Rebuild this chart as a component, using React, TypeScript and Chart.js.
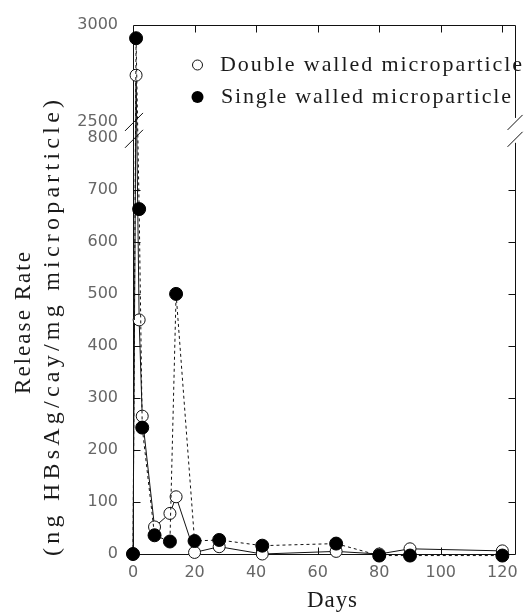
import React, { useEffect, useRef } from "react";
import { Chart, registerables } from "chart.js";

Chart.register(...registerables);

// ---------- data ----------
const days = [0, 1, 2, 3, 7, 12, 14, 20, 28, 42, 66, 80, 90, 120];
const doubleWalled = [0, 2740, 450, 265, 52, 78, 110, 3, 14, 0, 5, 0, 10, 6];
const singleWalled = [0, 2930, 663, 243, 36, 24, 500, 25, 27, 16, 20, -3, -3, -3];
const xTicks = [0, 20, 40, 60, 80, 100, 120];
const yLowerTicks = [0, 100, 200, 300, 400, 500, 600, 700, 800];
const yUpperTicks = [2500, 3000];
const seriesLabels = ["Double walled microparticle", "Single walled microparticle"];
const xTitle = "Days";
const yTitle = ["Release Rate", "(ng HBsAg/cay/mg microparticle)"];

// ---------- broken axis mapping ----------
const LOWER_MAX = 800;
const UPPER_MIN = 2500;
const UPPER_MAX = 3000;
const GAP_UNITS = 30.55;
const UPPER_SCALE = 0.3742;
const X_MAX = 124.3;

function toAxis(v: number): number {
  if (v <= LOWER_MAX) return v;
  if (v >= UPPER_MIN) return LOWER_MAX + GAP_UNITS + (v - UPPER_MIN) * UPPER_SCALE;
  return LOWER_MAX + ((v - LOWER_MAX) / (UPPER_MIN - LOWER_MAX)) * GAP_UNITS;
}

const yTickValues = [...yLowerTicks, ...yUpperTicks];

// ---------- layout/style ----------
const W = 527;
const H = 614;
const LEFT_W = 133;
const RIGHT_W = 7;
const TOP_H = 21;
const BOTTOM_H = 60;
const INK = "#111";
const SERIF = '"Liberation Serif", "DejaVu Serif", serif';

function drawFitted(
  ctx: CanvasRenderingContext2D,
  text: string,
  x: number,
  y: number,
  width: number,
  font: string,
  align: "center" | "left"
) {
  ctx.font = font;
  ctx.textAlign = "left";
  const w0 = ctx.measureText(text).width;
  const n = text.length;
  const startX = align === "center" ? x - width / 2 : x;
  const anyCtx = ctx as any;
  if ("letterSpacing" in anyCtx && n > 1) {
    const sp = (width - w0) / (n - 1);
    anyCtx.letterSpacing = sp + "px";
    ctx.fillText(text, startX, y);
    anyCtx.letterSpacing = "0px";
  } else {
    ctx.save();
    ctx.translate(startX, y);
    ctx.scale(width / w0, 1);
    ctx.fillText(text, 0, 0);
    ctx.restore();
  }
}

const framePlugin = {
  id: "brokenFrame",
  beforeDatasetsDraw(chart: any) {
    const { ctx, chartArea } = chart;
    const { left, right, top, bottom } = chartArea;
    const xs = chart.scales.x;
    const ys = chart.scales.y;
    const yb1 = ys.getPixelForValue(toAxis(UPPER_MIN));
    const yb2 = ys.getPixelForValue(LOWER_MAX);
    ctx.save();
    ctx.strokeStyle = INK;
    ctx.lineWidth = 1;
    ctx.beginPath();
    const l = Math.round(left) + 0.5;
    const r = Math.round(right) - 0.5;
    const t = Math.round(top) + 0.5;
    const b = Math.round(bottom) + 0.5;
    ctx.moveTo(l, t);
    ctx.lineTo(l, b);
    ctx.moveTo(l, b);
    ctx.lineTo(r, b);
    ctx.moveTo(l, t);
    ctx.lineTo(r, t);
    ctx.moveTo(r, t);
    ctx.lineTo(r, yb1 - 4);
    ctx.moveTo(r, yb2 + 5);
    ctx.lineTo(r, b);
    const TL = 7;
    xTicks.forEach((v) => {
      if (v === 0) return;
      const px = Math.round(xs.getPixelForValue(v)) + 0.5;
      ctx.moveTo(px, b);
      ctx.lineTo(px, b - TL);
      ctx.moveTo(px, t);
      ctx.lineTo(px, t + TL);
    });
    yLowerTicks.forEach((v) => {
      if (v === 0 || v === LOWER_MAX) return;
      const py = Math.round(ys.getPixelForValue(v)) + 0.5;
      ctx.moveTo(l, py);
      ctx.lineTo(l + TL, py);
      ctx.moveTo(r, py);
      ctx.lineTo(r - TL, py);
    });
    ctx.stroke();
    ctx.restore();
  },
  afterDraw(chart: any) {
    const { ctx, chartArea } = chart;
    const { left, right } = chartArea;
    const ys = chart.scales.y;
    const yb1 = ys.getPixelForValue(toAxis(UPPER_MIN));
    const yb2 = ys.getPixelForValue(LOWER_MAX) + 1;
    ctx.save();
    // break marks
    ctx.strokeStyle = INK;
    ctx.lineWidth = 1;
    ctx.beginPath();
    [yb1, yb2].forEach((yy) => {
      ctx.moveTo(left - 8, yy + 9);
      ctx.lineTo(left + 10, yy - 9);
      ctx.moveTo(right - 8, yy + 8);
      ctx.lineTo(right + 7, yy - 7);
    });
    ctx.stroke();

    ctx.fillStyle = "#1a1a1a";
    ctx.textBaseline = "alphabetic";
    // y title (two rotated lines)
    ctx.save();
    ctx.translate(30, 323);
    ctx.rotate(-Math.PI / 2);
    drawFitted(ctx, yTitle[0], 0, 0, 142, `23px ${SERIF}`, "center");
    ctx.restore();
    ctx.save();
    ctx.translate(59, 328);
    ctx.rotate(-Math.PI / 2);
    drawFitted(ctx, yTitle[1], 0, 0, 456, `24px ${SERIF}`, "center");
    ctx.restore();

    // x title
    drawFitted(ctx, xTitle, 332, 607, 50, `23px ${SERIF}`, "center");

    // legend
    ctx.beginPath();
    ctx.arc(197.5, 65, 5, 0, Math.PI * 2);
    ctx.fillStyle = "#fff";
    ctx.fill();
    ctx.strokeStyle = INK;
    ctx.stroke();
    ctx.beginPath();
    ctx.arc(197.5, 97, 6, 0, Math.PI * 2);
    ctx.fillStyle = "#000";
    ctx.fill();
    ctx.fillStyle = "#1a1a1a";
    drawFitted(ctx, seriesLabels[0], 220, 71, 302, `22px ${SERIF}`, "left");
    drawFitted(ctx, seriesLabels[1], 221, 103, 290, `22px ${SERIF}`, "left");
    ctx.restore();
  },
};

export default function App() {
  const ref = useRef<HTMLCanvasElement | null>(null);

  useEffect(() => {
    const canvas = ref.current;
    if (!canvas) return;
    const tickFont = { family: '"DejaVu Sans", sans-serif', size: 16 };
    const chart = new Chart(canvas, {
      type: "line",
      data: {
        datasets: [
          {
            label: seriesLabels[1],
            data: days.map((d, i) => ({ x: d, y: toAxis(singleWalled[i]) })),
            borderColor: INK,
            borderWidth: 1,
            borderDash: [3, 3],
            pointRadius: 6.5,
            pointBackgroundColor: "#000",
            pointBorderColor: "#000",
            pointBorderWidth: 1,
            tension: 0,
            clip: false as any,
            order: 0,
          },
          {
            label: seriesLabels[0],
            data: days.map((d, i) => ({ x: d, y: toAxis(doubleWalled[i]) })),
            borderColor: INK,
            borderWidth: 1,
            pointRadius: 6,
            pointBackgroundColor: "#fff",
            pointBorderColor: INK,
            pointBorderWidth: 1,
            tension: 0,
            clip: false as any,
            order: 1,
          },
        ],
      },
      options: {
        responsive: false,
        animation: false,
        devicePixelRatio: 1,
        layout: { padding: 0 },
        plugins: {
          legend: { display: false },
          tooltip: { enabled: false },
          title: { display: false },
        },
        scales: {
          x: {
            type: "linear",
            position: "bottom",
            min: 0,
            max: X_MAX,
            afterBuildTicks: (s: any) => {
              s.ticks = xTicks.map((v) => ({ value: v }));
            },
            afterFit: (s: any) => {
              s.height = BOTTOM_H;
            },
            grid: { display: false, drawTicks: false },
            border: { display: false },
            ticks: {
              autoSkip: false,
              maxRotation: 0,
              padding: 9,
              color: "#666",
              font: tickFont,
              callback: (v: any) => String(v),
            },
          },
          xTop: {
            type: "linear",
            position: "top",
            min: 0,
            max: X_MAX,
            afterFit: (s: any) => {
              s.height = TOP_H;
            },
            grid: { display: false, drawTicks: false },
            border: { display: false },
            ticks: { display: false },
          },
          y: {
            type: "linear",
            position: "left",
            min: 0,
            max: toAxis(UPPER_MAX),
            afterBuildTicks: (s: any) => {
              s.ticks = yTickValues.map((v) => ({ value: toAxis(v) }));
            },
            afterFit: (s: any) => {
              s.width = LEFT_W;
            },
            grid: { display: false, drawTicks: false },
            border: { display: false },
            ticks: {
              autoSkip: false,
              padding: 15,
              color: "#666",
              font: tickFont,
              callback: (_v: any, i: number) => String(yTickValues[i]),
            },
          },
          yRight: {
            type: "linear",
            position: "right",
            min: 0,
            max: toAxis(UPPER_MAX),
            afterFit: (s: any) => {
              s.width = RIGHT_W;
            },
            grid: { display: false, drawTicks: false },
            border: { display: false },
            ticks: { display: false },
          },
        },
      } as any,
      plugins: [framePlugin],
    });
    return () => chart.destroy();
  }, []);

  return (
    <div style={{ position: "fixed", left: 0, top: 0, width: W, height: H, background: "#fff" }}>
      <canvas ref={ref} width={W} height={H} style={{ width: W, height: H, display: "block" }} />
    </div>
  );
}
